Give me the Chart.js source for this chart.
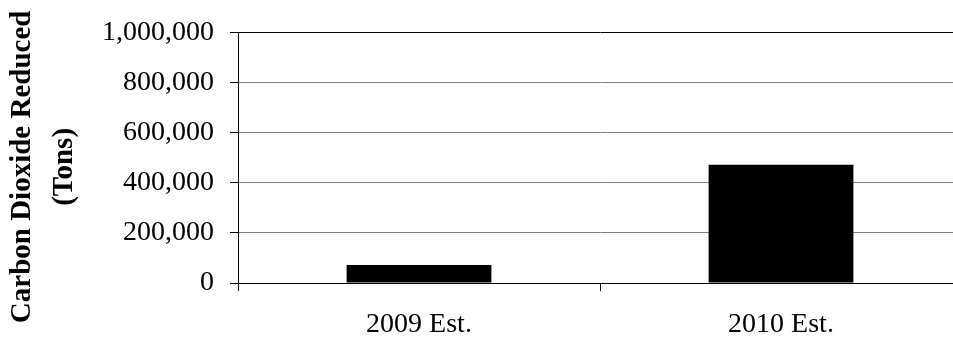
<!DOCTYPE html>
<html>
<head>
<meta charset="utf-8">
<script src="https://cdn.jsdelivr.net/npm/chart.js@4/dist/chart.umd.min.js"></script>
<style>
  html, body { margin: 0; padding: 0; background: #fff; overflow: hidden; }
  #wrap { width: 970px; height: 341px; }
</style>
</head>
<body>
<div id="wrap"><canvas id="c" width="970" height="341"></canvas></div>
<script>
// Estimated CO2 reductions by year
const categories = ['2009 Est.', '2010 Est.'];
const co2Reduced = [72000, 473000];
const yTicks = [0, 200000, 400000, 600000, 800000, 1000000];
const yTitleLines = ['Carbon Dioxide Reduced', '(Tons)'];

const SERIF = '"Liberation Serif", "Times New Roman", serif';

// Rotated two-line axis title drawn beside the value axis
const axisTitle = {
  id: 'axisTitle',
  afterDraw(chart) {
    const { ctx, chartArea } = chart;
    ctx.save();
    ctx.font = 'bold 29px ' + SERIF;
    ctx.fillStyle = '#000';
    ctx.textAlign = 'center';
    ctx.textBaseline = 'middle';
    const cy = (chartArea.top + chartArea.bottom) / 2 + 9;
    const xs = [23, 65];
    yTitleLines.forEach((line, i) => {
      ctx.save();
      ctx.translate(xs[i], cy);
      ctx.rotate(-Math.PI / 2);
      ctx.fillText(line, 0, 0);
      ctx.restore();
    });
    ctx.restore();
  }
};

new Chart(document.getElementById('c'), {
  type: 'bar',
  data: {
    labels: categories,
    datasets: [{
      data: co2Reduced,
      backgroundColor: '#000',
      borderWidth: 0,
      barPercentage: 1,
      categoryPercentage: 0.4
    }]
  },
  options: {
    responsive: false,
    animation: false,
    devicePixelRatio: 1,
    layout: { padding: { top: 30, right: 8, left: 0, bottom: 0 } },
    plugins: { legend: { display: false }, tooltip: { enabled: false } },
    scales: {
      x: {
        afterFit(scale) { scale.height = 58; },
        grid: {
          offset: true,
          drawOnChartArea: false,
          drawTicks: true,
          tickLength: 8,
          tickColor: '#000',
          lineWidth: 1
        },
        border: { display: true, color: '#000', width: 1 },
        ticks: {
          color: '#000',
          font: { family: SERIF, size: 28 },
          padding: 17,
          maxRotation: 0,
          autoSkip: false
        }
      },
      y: {
        min: 0,
        max: 1000000,
        afterFit(scale) { scale.width = 238; },
        afterBuildTicks(scale) { scale.ticks = yTicks.map(v => ({ value: v })); },
        grid: {
          color: ctx => (ctx.tick && (ctx.tick.value === 1000000 || ctx.tick.value === 0)) ? '#000' : '#808080',
          lineWidth: 1,
          drawTicks: true,
          tickLength: 8,
          tickColor: '#000'
        },
        border: { display: true, color: '#000', width: 1 },
        ticks: {
          color: '#000',
          font: { family: SERIF, size: 28 },
          padding: 16,
          callback: v => Number(v).toLocaleString('en-US')
        }
      }
    }
  },
  plugins: [axisTitle]
});
</script>
</body>
</html>
